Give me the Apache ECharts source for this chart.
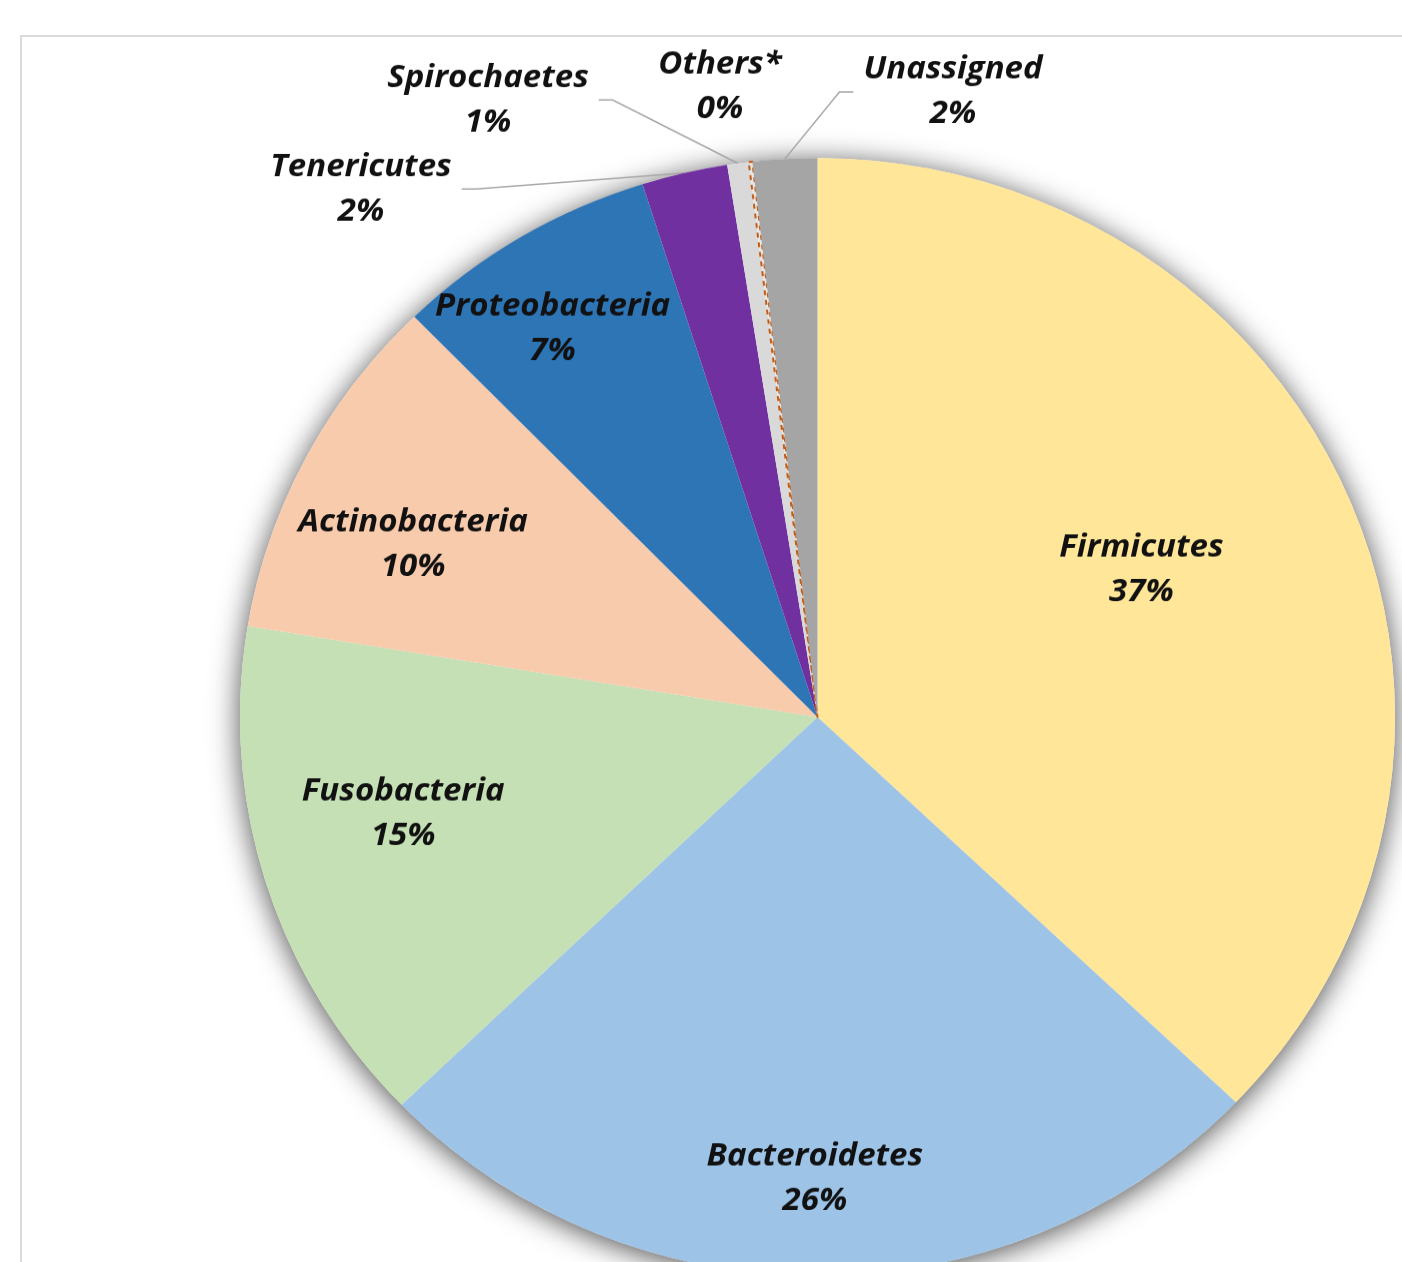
<!DOCTYPE html>
<html>
<head>
<meta charset="utf-8">
<title>Phylum composition</title>
<script src="https://cdn.jsdelivr.net/npm/echarts@6/dist/echarts.min.js"></script>
<style>
  html, body { margin: 0; padding: 0; background: #ffffff; overflow: hidden; width: 1402px; height: 1262px; }
  #frame {
    position: absolute; left: 20px; top: 35px; width: 1500px; height: 1400px;
    border-top: 2px solid #dadada; border-left: 2px solid #dadada;
  }
  /* The plot is drawn slightly flattened vertically (an ellipse, not a circle). */
  #chart {
    position: absolute; left: 0; top: 0; width: 1402px; height: 1304px;
    transform-origin: 0 0; transform: scaleY(0.968);
  }
</style>
</head>
<body>
<div id="frame"></div>
<div id="chart"></div>
<script>
// Relative abundance of bacterial phyla (%)
const categories = ['Firmicutes', 'Bacteroidetes', 'Fusobacteria', 'Actinobacteria', 'Proteobacteria',
                    'Tenericutes', 'Spirochaetes', 'Others*', 'Unassigned'];
const shares = [37.1, 25.7, 14.8, 10.1, 7.4, 2.4, 0.6, 0.1, 1.8];

// Slice fills
const sliceColors = ['#ffe699', '#9dc3e6', '#c5e0b4', '#f8cbad', '#2e75b6',
                     '#7030a0', '#d9d9d9', '#e7e6e6', '#a5a5a5'];

// Geometry of the pie (canvas pixels, before the vertical squash)
const SY = 0.968;
const CX = 817.5;
const CY = 717 / SY;
const R = 577.5;

// Labels drawn inside their slice: turn (deg) from the slice middle, distance as a fraction of R
const INSIDE_LABEL = {
  'Firmicutes':     { turn: -2.0, r: 0.62 },
  'Bacteroidetes':  { turn:  0.5, r: 0.825 },
  'Fusobacteria':   { turn:  3.7, r: 0.738 },
  'Actinobacteria': { turn: -3.8, r: 0.765 },
  'Proteobacteria': { turn: -2.5, r: 0.832 }
};
// Labels placed outside the pie (centre of the text block, page pixels)
const OUTSIDE_LABEL = {
  'Tenericutes':  [361, 189],
  'Spirochaetes': [488, 100],
  'Others*':      [720, 87],
  'Unassigned':   [953, 92]
};
const NO_LEADER = ['Others*'];

const total = shares.reduce((a, b) => a + b, 0);
const startDeg = [];
let acc = 0;
shares.forEach(v => { startDeg.push(acc / total * 360); acc += v; });
const midDeg = i => startDeg[i] + shares[i] / total * 180;

const labelFont = {
  fontFamily: '"Open Sans"',
  fontWeight: 'bold',
  fontStyle: 'italic',
  fontSize: 33,
  lineHeight: 46,
  color: '#111111'
};

const pieData = categories.map((name, i) => {
  const inside = !!INSIDE_LABEL[name];
  const item = {
    name: name,
    value: shares[i],
    itemStyle: { color: sliceColors[i] },
    label: Object.assign({ position: inside ? 'inside' : 'outside', padding: inside ? 0 : [0, 10] }, labelFont),
    labelLine: { show: !inside && NO_LEADER.indexOf(name) < 0 }
  };
  if (name === 'Others*') {
    item.itemStyle = { color: '#e7e6e6', borderColor: '#c55a11', borderWidth: 2, borderType: [5, 5] };
  }
  return item;
});

const chart = echarts.init(document.getElementById('chart'), null, { renderer: 'canvas', width: 1402, height: 1304 });

chart.setOption({
  animation: false,
  backgroundColor: 'transparent',
  series: [
    {
      // soft drop shadow under the whole pie
      type: 'pie',
      silent: true,
      center: [CX, CY],
      radius: [0, R],
      z: 1,
      label: { show: false },
      labelLine: { show: false },
      itemStyle: { color: '#ffffff', shadowBlur: 30, shadowColor: 'rgba(0,0,0,0.7)', shadowOffsetY: 4 },
      data: [{ value: total }]
    },
    {
      type: 'pie',
      center: [CX, CY],
      radius: [0, R],
      startAngle: 90,
      clockwise: true,
      z: 2,
      avoidLabelOverlap: false,
      emphasis: { disabled: true },
      itemStyle: { borderWidth: 0 },
      label: {
        show: true,
        formatter: p => p.name + '\n' + Math.round(p.percent) + '%'
      },
      labelLine: {
        length: 20,
        length2: 14,
        smooth: false,
        lineStyle: { color: '#a6a6a6', width: 1.5 }
      },
      labelLayout: function (p) {
        const name = categories[p.dataIndex];
        const ins = INSIDE_LABEL[name];
        if (ins) {
          const a = (midDeg(p.dataIndex) + ins.turn) * Math.PI / 180;
          return {
            x: CX + R * ins.r * Math.sin(a),
            y: CY - R * ins.r * Math.cos(a),
            align: 'center',
            verticalAlign: 'middle'
          };
        }
        const at = OUTSIDE_LABEL[name];
        return { x: at[0], y: at[1] / SY, align: 'center', verticalAlign: 'middle' };
      },
      data: pieData
    }
  ]
});
</script>
</body>
</html>
